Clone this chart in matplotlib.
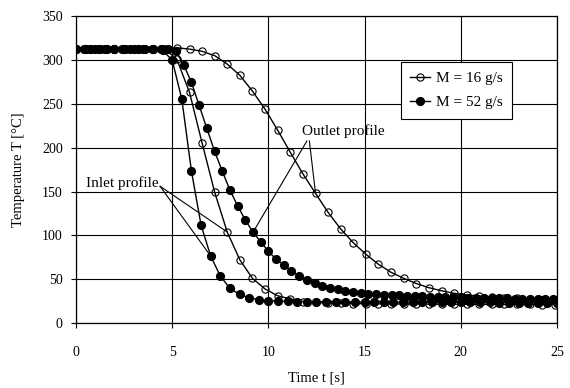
import matplotlib
matplotlib.use("Agg")
import matplotlib.pyplot as plt

plt.rcParams["font.family"] = ["Liberation Serif", "DejaVu Serif"]

# time axis for M = 16 g/s (both profiles) and M = 52 g/s
t16 = [0.0, 0.66, 1.31, 1.97, 2.62, 3.28, 3.93, 4.59, 5.24, 5.9, 6.55, 7.21, 7.86,
       8.52, 9.17, 9.83, 10.48, 11.14, 11.79, 12.45, 13.1, 13.76, 14.41, 15.07,
       15.72, 16.38, 17.03, 17.69, 18.34, 19.0, 19.65, 20.31, 20.96, 21.62,
       22.27, 22.93, 23.58, 24.24, 24.89]

outlet16 = [313, 313, 313, 313, 313, 313, 313, 313, 314, 312.5, 310, 305, 295.4,
            282.5, 264.6, 243.8, 220.1, 194.7, 170.3, 147.9, 126.3, 107.2, 91.6,
            78.4, 67, 57.8, 51, 45, 40.3, 36.8, 33.9, 31.9, 30.8, 29.7, 28.5, 28,
            27.4, 26.8, 26.2]

inlet16 = [313, 313, 313, 313, 313, 313, 313, 313, 301, 263.2, 205.7, 149.1, 103.8,
           71.9, 51, 38.8, 31.1, 27.4, 24.5, 23.4, 22.8, 22.5, 22.2, 22, 21.9,
           21.8, 21.7, 21.6, 21.5, 21.5, 21.4, 21.4, 21.3, 21.3, 21.2, 21.2, 21.2,
           21.1, 21.1]

t52_out = [0.0, 0.4, 0.8, 1.2, 1.6, 2.0, 2.4, 2.8, 3.2, 3.6, 4.0, 4.4, 4.8, 5.2,
           5.6, 6.0, 6.4, 6.8, 7.2, 7.6, 8.0, 8.4, 8.8, 9.2, 9.6, 10.0, 10.4, 10.8,
           11.2, 11.6, 12.0, 12.4, 12.8, 13.2, 13.6, 14.0, 14.4, 14.8, 15.2, 15.6,
           16.0, 16.4, 16.8, 17.2, 17.6, 18.0, 18.4, 18.8, 19.2, 19.6, 20.0, 20.4,
           20.8, 21.2, 21.6, 22.0, 22.4, 22.8, 23.2, 23.6, 24.0, 24.4, 24.8]

outlet52 = [313, 313, 313, 313, 313, 313, 313, 313, 313, 313, 313, 313, 313, 310,
            294.3, 274.6, 248.3, 222.1, 196.2, 173.4, 151.7, 133.8, 117.5, 103.5,
            92.7, 81.8, 72.7, 66.2, 59.7, 53.6, 49.1, 45.3, 42.2, 39.9, 38.4, 36.8,
            35.7, 34.6, 33.4, 33, 32.5, 32, 31.5, 31, 30.6, 30.3, 30, 29.8, 29.6,
            29.4, 29.2, 29, 28.8, 28.6, 28.4, 28.2, 28, 27.8, 27.6, 27.4, 27.2,
            27.1, 27]

t52_in = [0.0, 0.5, 1.0, 1.5, 2.0, 2.5, 3.0, 3.5, 4.0, 4.5, 5.0, 5.5, 6.0, 6.5,
          7.0, 7.5, 8.0, 8.5, 9.0, 9.5, 10.0, 10.5, 11.0, 11.5, 12.0, 12.5, 13.0,
          13.5, 14.0, 14.5, 15.0, 15.5, 16.0, 16.5, 17.0, 17.5, 18.0, 18.5, 19.0,
          19.5, 20.0, 20.5, 21.0, 21.5, 22.0, 22.5, 23.0, 23.5, 24.0, 24.5, 25.0]

inlet52 = [313, 313, 313, 313, 313, 313, 313, 313, 313, 311, 300, 255.5, 173.4,
           111.8, 76.4, 53.6, 39.6, 32.7, 28.9, 26.6, 25.5, 25, 24.7, 24.5, 24.4,
           24.3, 24.2, 24.1, 24, 24, 23.9, 23.9, 23.8, 23.8, 23.7, 23.7, 23.6,
           23.6, 23.5, 23.5, 23.5, 23.4, 23.4, 23.4, 23.3, 23.3, 23.3, 23.2, 23.2,
           23.2, 23.1]

fig = plt.figure(figsize=(5.7, 3.88), dpi=100)
ax = fig.add_axes([0.1333, 0.1675, 0.8439, 0.7907])

open_style = dict(color="black", lw=1.0, marker="o", markersize=5.2,
                  markerfacecolor="none", markeredgecolor="black", markeredgewidth=0.8)
fill_style = dict(color="black", lw=1.0, marker="o", markersize=5.6,
                  markerfacecolor="black", markeredgecolor="black")

ax.plot(t16, outlet16, label="M = 16 g/s", **open_style)
ax.plot(t16, inlet16, **open_style)
ax.plot(t52_out, outlet52, label="M = 52 g/s", **fill_style)
ax.plot(t52_in, inlet52, **fill_style)

ax.set_xlim(0, 25)
ax.set_ylim(0, 350)
ax.set_xticks([0, 5, 10, 15, 20, 25])
ax.set_yticks([0, 50, 100, 150, 200, 250, 300, 350])
ax.grid(True, color="black", lw=0.8)
ax.set_axisbelow(True)
for s in ax.spines.values():
    s.set_linewidth(0.9)
ax.tick_params(direction="out", length=3.5, width=0.8, labelsize=10, colors="black")
ax.tick_params(axis="x", pad=13)
ax.tick_params(axis="y", pad=6)

ax.set_xlabel("Time t [s]", fontsize=10.5, labelpad=9)
ax.set_ylabel("Temperature T [°C]", fontsize=10.5, labelpad=12)

# annotations
ax.text(2.39, 159.7, "Inlet profile", fontsize=11, ha="center", va="center")
ax.plot([4.37, t16[12]], [156, inlet16[12]], color="black", lw=0.8)
ax.plot([4.37, t52_in[14]], [156, inlet52[14]], color="black", lw=0.8)

ax.text(13.88, 219, "Outlet profile", fontsize=11, ha="center", va="center")
ax.plot([12.0, t52_out[23]], [207.6, outlet52[23]], color="black", lw=0.8)
ax.plot([12.13, t16[19]], [207.6, outlet16[19]], color="black", lw=0.8)

leg = ax.legend(loc="upper left", bbox_to_anchor=(0.676, 0.85), fontsize=11,
                frameon=True, fancybox=False, edgecolor="black", framealpha=1,
                handlelength=1.3, handletextpad=0.4, labelspacing=0.7,
                borderpad=0.6, borderaxespad=0)
leg.get_frame().set_linewidth(0.8)

plt.savefig("out.png", dpi=100)
